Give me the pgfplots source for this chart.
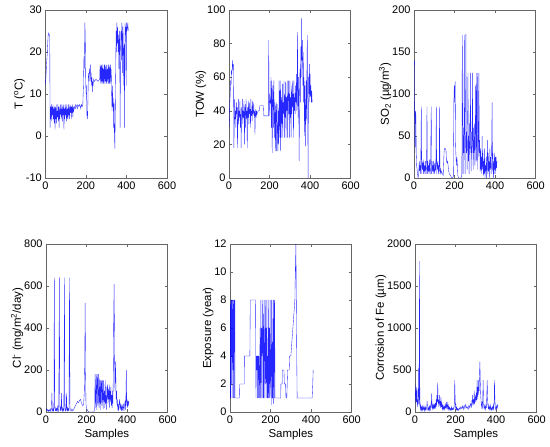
\documentclass[border=0pt]{standalone}
\usepackage{fontspec}
\setmainfont{Liberation Sans}
\usepackage{pgfplots}
\pgfplotsset{compat=1.18}
\pgfplotsset{
  mat/.style={
    scale only axis, width=121.7bp, height=168bp,
    xmin=0, xmax=600, xtick={0,200,400,600},
    tick align=inside, xtick pos=both, ytick pos=both,
    major tick length=3bp, minor tick num=0,
    axis line style={black!60, line width=0.5bp},
    every tick/.style={black!60, line width=0.5bp},
    tick label style={font=\fontsize{11}{13}\selectfont},
    label style={font=\fontsize{11.5}{13}\selectfont},
    /pgf/number format/assume math mode=true,
    /pgf/number format/1000 sep={},
    scaled ticks=false,
    ylabel style={yshift=-6bp},
    xlabel style={yshift=1bp},
  },
  ln/.style={blue, line width=0.35bp, opacity=0.85, no marks},
}
\begin{document}
\begin{tikzpicture}
\useasboundingbox (0,0) rectangle (550bp,447bp);
% ---------------- T
\begin{axis}[mat, at={(45.3bp,269bp)}, anchor=south west,
  ymin=-10, ymax=30, ytick={-10,0,10,20,30},
  ylabel={T (\textsuperscript{o}C)}]
\addplot[ln] coordinates {(0,12)(3,14)(6,17)(10,20)(14,24)(17,24.5)(20,24)(22,24)(23,10)(24,2)(26,7)(28,4)(30,7.5)(32,3.5)(34,7)(36,5)(38,7.5)(40,4)(42,6.5)(44,3)(46,7)(48,1.5)(50,7)(52,4)(54,7.5)(56,3)(58,6)(60,4.5)(62,7.5)(64,3.5)(66,7)(68,2)(70,7)(72,4)(74,7.5)(76,5)(78,6.5)(80,4)(82,7.5)(84,3.5)(86,7)(88,5)(90,7.5)(92,1.5)(94,6.5)(96,4)(98,7.5)(100,5)(102,7)(104,3.5)(106,7.5)(108,4)(110,6.5)(112,4)(114,7.5)(116,5)(118,7)(120,4)(122,7.5)(124,5.5)(126,7)(128,4)(130,7)(132,5.5)(134,7.5)(136,4.5)(138,7)(140,6)(145,7)(148,6.5)(150,7.5)(155,7)(158,6.5)(160,7.5)(165,7)(170,7.5)(175,6.5)(178,7.5)(182,7)(185,7.5)(188,12)(190,18)(191,19)(193,16)(195,27)(197,24)(199,14)(201,10)(203,12)(205,5)(208,4)(210,8)(212,14)(214,15)(216,13)(218,16)(220,15)(222,17)(224,13)(226,15)(228,12)(230,14)(232,10.5)(234,13)(236,12)(238,13.5)(242,13)(250,13.5)(260,13)(268,13.5)
(270,17)(272,12.5)(274,16.5)(276,12.5)(278,17)(280,13)(282,17)(284,12.5)(286,16)(288,12.5)(290,17)(292,12.5)(294,17)(296,13)(298,16.5)(300,12.5)(302,17)(304,12.5)(306,16)(308,13)(310,17)(312,12.5)(314,17)(316,12.5)(318,16.5)(320,12.5)(322,17)(324,13)(325,16)
(327,10)(329,6)(331,12)(333,7)(335,9)(337,2)(339,8)(341,0)(343,-3)(345,5)(347,15)(349,25)(351,20)(353,27)(355,22)(357,26)(359,20)(361,24)(363,16)(365,25)(367,22)(369,2)(371,20)(373,25)(375,18)(377,27)(379,26)(381,15)(383,26)(385,20)(387,12)(389,22)(391,2)(393,27)(395,24)(397,26)(399,12)(401,27)(403,25)(405,26)(407,27)(409,25)};
\end{axis}
% ---------------- TOW
\begin{axis}[mat, at={(229bp,269bp)}, anchor=south west,
  ymin=0, ymax=100, ytick={0,20,40,60,80,100},
  ylabel={TOW (\%)}]
\addplot[ln] coordinates {(0,30)(2,35)(4,45)(6,50)(8,58)(10,55)(12,64)(14,62)(16,66)(18,70)(20,64)(22,68)(24,18)(26,30)(28,47)(30,35)(32,40)(34,30)(36,45)(38,38)(40,42)(42,18)(44,35)(46,47)(48,32)(50,40)(52,36)(54,46)(56,30)(58,38)(60,18)(62,42)(64,35)(66,47)(68,32)(70,40)(72,36)(74,46)(76,20)(78,38)(80,44)(82,30)(84,47)(86,35)(88,40)(90,18)(92,42)(94,36)(96,46)(98,32)(100,45)(102,38)(104,41)(106,30)(108,47)(110,37)(112,40)(114,34)(116,46)(118,38)(120,39)(122,45)(124,37)(126,40)(128,26)(130,38)(132,41)(134,36)(136,40)(138,38)(140,39)(145,40)(150,40)(152,43)(170,43)(172,37)(194,37)(196,82)(197,45)(199,50)(201,37)(203,46)(205,45)(207,60)(209,30)(211,58)(213,15)(215,45)(217,55)(219,30)(221,58)(223,40)(225,24)(227,45)(229,16)(231,38)(233,45)(235,16)(237,44)(239,24)(241,16)(243,40)(245,20)(247,58)(249,24)(251,52)(253,16)(255,58)(257,24)(259,48)(261,32)(263,56)(265,24)(267,45)(269,38)(271,58)(273,24)(275,50)(277,36)(279,57)(281,24)(283,48)(285,40)(287,58)(289,24)(291,45)(293,58)(295,38)(297,50)(299,24)(300,58)(302,36)(304,48)(306,24)(308,55)(310,38)(312,58)(314,42)(316,50)(318,24)(320,58)(322,40)(324,48)(326,38)(328,55)(330,45)(332,62)(334,40)(336,55)(338,87)(340,36)(342,60)(344,45)(346,10)(348,50)(350,65)(352,45)(354,78)(356,60)(358,95)(360,70)(362,82)(364,55)(366,75)(368,45)(370,60)(372,25)(374,55)(376,40)(378,19)(380,58)(382,35)(384,62)(386,85)(388,45)(390,0)(392,60)(394,50)(396,68)(398,45)(400,62)(402,48)(404,55)(406,45)(408,52)(410,45)};
\end{axis}
% ---------------- SO2
\begin{axis}[mat, at={(414bp,269bp)}, anchor=south west,
  ymin=0, ymax=200, ytick={0,50,100,150,200},
  ylabel={SO\textsubscript{2} (µg/m\textsuperscript{3})}]
\addplot[ln] coordinates {(0,140)(2,138)(3,80)(5,30)(7,80)(9,75)(11,30)(13,15)(16,8)(20,0)(23,5)(26,20)(28,8)(30,15)(33,5)(36,85)(38,5)(40,20)(42,10)(44,18)(46,5)(48,22)(50,8)(52,15)(54,5)(56,20)(58,10)(60,5)(62,18)(64,85)(66,5)(68,20)(70,8)(72,15)(74,5)(76,22)(78,10)(80,5)(82,18)(85,85)(87,5)(89,20)(91,8)(93,15)(95,5)(97,20)(99,10)(101,5)(103,18)(106,8)(108,20)(110,85)(112,5)(114,18)(116,10)(118,20)(120,5)(122,15)(124,8)(126,85)(128,5)(130,12)(133,5)(136,8)(140,5)(144,3)(148,30)(150,35)(154,35)(158,33)(160,20)(163,18)(166,20)(170,10)(174,5)(178,4)(182,2)(186,0)(190,0)(194,2)(197,100)(199,110)(201,90)(203,115)(205,40)(207,25)(209,15)(211,25)(213,20)(216,3)(220,0)(232,0)(236,5)(238,170)(240,60)(242,5)(244,60)(246,30)(248,170)(250,40)(252,5)(254,65)(256,172)(258,30)(260,55)(262,10)(264,60)(266,125)(268,20)(270,50)(272,5)(274,65)(276,35)(278,125)(280,40)(282,8)(284,55)(286,30)(288,125)(290,45)(292,10)(294,60)(296,30)(298,65)(300,15)(302,50)(304,110)(306,20)(308,125)(310,40)(312,10)(314,125)(316,60)(318,25)(320,125)(322,30)(324,45)(326,8)(328,35)(330,10)(332,25)(334,5)(336,50)(338,10)(340,30)(342,3)(344,20)(346,5)(348,35)(350,0)(352,15)(354,8)(356,25)(358,0)(360,18)(362,45)(364,5)(366,30)(368,8)(370,20)(372,0)(374,35)(376,10)(378,25)(380,5)(382,15)(385,90)(387,8)(389,30)(391,0)(393,20)(395,5)(397,30)(399,10)(401,25)(403,5)(405,25)(407,12)(409,20)};
\end{axis}
% ---------------- Cl
\begin{axis}[mat, at={(46bp,35bp)}, anchor=south west,
  ymin=0, ymax=800, ytick={0,200,400,600,800},
  xlabel={Samples},
  ylabel={Cl\textsuperscript{-} (mg/m\textsuperscript{2}/day)}]
\addplot[ln] coordinates {(0,10)(3,15)(6,5)(9,12)(12,3)(15,10)(18,5)(21,15)(24,2)(27,20)(29,90)(31,10)(33,5)(35,15)(37,3)(39,20)(41,640)(43,30)(45,10)(47,5)(49,20)(51,8)(53,15)(55,3)(57,25)(59,10)(61,5)(63,40)(66,640)(68,30)(70,10)(72,20)(74,5)(76,90)(78,15)(80,5)(82,20)(84,8)(86,15)(88,3)(91,640)(93,30)(95,10)(97,5)(99,20)(101,90)(103,10)(105,5)(107,20)(109,8)(111,15)(113,5)(116,640)(118,25)(120,10)(124,5)(128,15)(132,5)(136,10)(140,20)(145,30)(150,40)(155,50)(160,45)(165,55)(170,60)(174,45)(178,35)(182,30)(186,40)(189,100)(191,230)(193,520)(195,200)(197,40)(200,15)(204,10)(208,2)(212,0)(236,0)(240,20)(242,180)(244,20)(246,100)(248,180)(250,10)(252,120)(254,180)(256,30)(258,180)(260,60)(262,20)(264,160)(266,40)(268,150)(270,10)(272,120)(274,150)(276,30)(278,150)(280,60)(282,15)(284,150)(286,50)(288,100)(290,20)(292,150)(294,40)(296,80)(298,10)(300,120)(302,60)(304,130)(306,40)(308,110)(310,60)(312,130)(314,20)(316,100)(318,50)(320,120)(322,30)(324,80)(326,20)(328,100)(330,40)(332,200)(334,470)(336,610)(338,280)(340,100)(342,240)(344,180)(346,60)(348,100)(350,30)(352,60)(354,10)(356,40)(358,5)(360,30)(363,60)(366,10)(369,40)(372,5)(375,30)(378,10)(381,40)(384,5)(387,30)(390,50)(393,10)(396,200)(398,30)(400,50)(402,20)(404,60)(406,30)(408,50)};
\end{axis}
% ---------------- Exposure
\begin{axis}[mat, at={(230bp,35bp)}, anchor=south west,
  ymin=0, ymax=12, ytick={0,2,4,6,8,10,12},
  xlabel={Samples},
  ylabel={Exposure (year)}]
\addplot[ln] coordinates {(0,1)(1.5,8)(3,1)(4.5,6)(6,8)(7.5,2)(9,8)(10.5,1)(12,5)(13.5,8)(15,3)(16.5,8)(18,1)(19.5,7)(21,8)(22.5,1)(24,8)(25,1)(47,1)(48,2)(70,2)(71,4)(98,4)(100,8)(126,8)(128,1)(130,4)(131,3)(132,4)(133,3)(134,4)(135,1)(136,3.5)(137,4)(138,3)(139,4)(140,1)(142,4)(144,3)(146,1)(148,6)(150,1)(152,8)(154,1)(156,6)(158,4)(160,8)(162,1)(164,7)(166,1)(168,8)(170,3)(172,1)(174,8)(176,2)(178,6)(180,1)(182,8)(184,1)(186,4)(188,1)(190,8)(192,1)(194,6)(196,1)(198,8)(200,2)(202,1)(204,8)(206,0.5)(208,5)(210,1)(212,8)(214,0.6)(216,8)(218,1)(220,8)(222,1)(250,1)(251,2)(257,2)(258,3)(266,3)(268,2)(274,2)(276,1)(280,1)(282,2)(284,3)(292,3)(294,4)(300,4)(305,5)(310,6)(315,7)(320,8)(322,10)(325,12)(327,8)(329,4)(331,1)(405,1)(408,2)(410,3)};
\end{axis}
% ---------------- Corrosion
\begin{axis}[mat, at={(415bp,35bp)}, anchor=south west,
  ymin=0, ymax=2000, ytick={0,500,1000,1500,2000},
  xlabel={Samples},
  ylabel={Corrosion of Fe (µm)}]
\addplot[ln] coordinates {(0,350)(2,200)(4,100)(6,300)(8,120)(10,280)(12,60)(14,150)(16,100)(18,520)(20,80)(22,1800)(24,100)(26,40)(28,80)(30,20)(32,60)(34,30)(36,80)(38,20)(40,50)(42,30)(44,70)(46,15)(48,50)(50,30)(52,60)(54,20)(56,40)(58,60)(60,130)(62,40)(64,20)(66,50)(68,30)(70,80)(72,20)(74,60)(76,30)(78,100)(80,50)(82,220)(84,80)(86,40)(88,100)(90,30)(92,80)(94,50)(96,100)(98,40)(100,90)(102,60)(104,150)(106,60)(108,200)(110,120)(112,350)(114,100)(116,150)(118,60)(120,200)(122,80)(124,130)(126,50)(128,180)(130,60)(132,100)(134,40)(136,80)(138,30)(140,70)(142,40)(144,60)(146,30)(148,80)(150,50)(152,90)(154,40)(156,120)(158,60)(160,100)(162,40)(164,80)(166,30)(168,60)(170,30)(172,50)(174,20)(176,40)(178,30)(180,60)(182,20)(184,40)(186,30)(188,50)(190,30)(192,40)(194,100)(196,380)(198,150)(200,50)(202,80)(204,30)(206,50)(208,20)(210,40)(214,20)(218,50)(222,30)(226,60)(230,40)(234,70)(238,30)(242,80)(246,40)(250,90)(254,50)(258,60)(262,30)(266,80)(270,50)(274,100)(278,60)(280,120)(282,80)(284,200)(286,100)(288,150)(290,80)(292,250)(294,100)(296,150)(298,180)(300,120)(302,230)(304,140)(306,380)(308,150)(310,300)(312,200)(314,380)(316,250)(318,450)(320,600)(322,350)(324,200)(326,120)(328,60)(330,100)(332,40)(334,150)(336,380)(338,100)(340,50)(342,80)(344,40)(346,60)(348,30)(350,100)(352,50)(354,200)(356,380)(358,150)(360,60)(362,40)(364,80)(366,30)(368,60)(370,40)(372,80)(374,30)(376,50)(378,20)(380,40)(382,60)(384,30)(386,80)(388,40)(390,100)(392,380)(394,150)(396,50)(398,30)(400,60)(402,40)(404,80)(406,50)(408,90)};
\end{axis}
\end{tikzpicture}
\end{document}
